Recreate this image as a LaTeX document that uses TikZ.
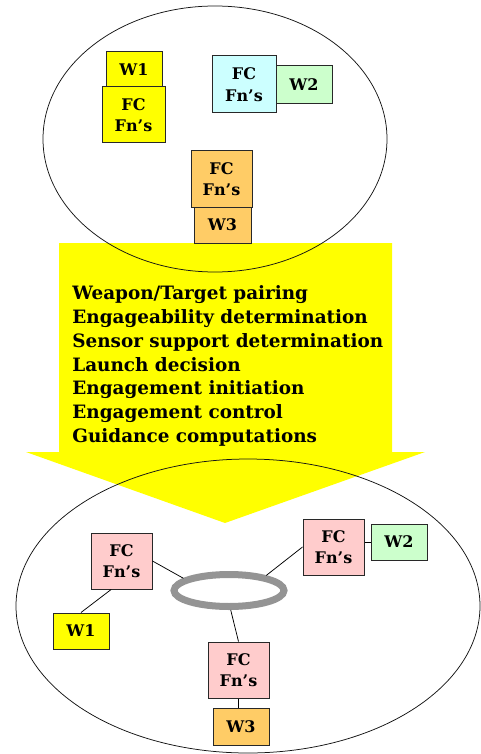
\documentclass[tikz,border=0pt]{standalone}
\usepackage{fontspec}
\setmainfont{DejaVu Serif}
\usetikzlibrary{shapes.geometric}

\tikzset{every picture/.style={line width=0.75pt}}
\tikzset{
  fnbox/.style={draw={rgb, 255:red, 40; green, 40; blue, 40 }, line width=1pt, inner sep=0pt, align=center,
    font=\fontsize{16}{21.5}\selectfont\bfseries, minimum width=61, minimum height=56},
  wbox/.style={fnbox, minimum width=56, minimum height=36},
  yel/.style={fill={rgb, 255:red, 255; green, 255; blue, 0 }},
  cyn/.style={fill={rgb, 255:red, 204; green, 255; blue, 255 }},
  grn/.style={fill={rgb, 255:red, 204; green, 255; blue, 204 }},
  org/.style={fill={rgb, 255:red, 255; green, 204; blue, 102 }},
  pnk/.style={fill={rgb, 255:red, 255; green, 204; blue, 204 }},
  ring/.style={ellipse, draw={rgb, 255:red, 148; green, 148; blue, 148 }, line width=7pt,
    minimum width=110, minimum height=32, inner sep=0pt},
}

\begin{document}
\begin{tikzpicture}[x=1pt,y=1pt,yscale=-1,xscale=1]
	\useasboundingbox (0,0) rectangle (480,754);

	%Shape: Arrow
	\fill [yel] (59,243) -- (392,243) -- (392,452) -- (425,452) -- (225,523) -- (26,452) -- (59,452) -- cycle ;
	%Shape: Ellipse (before)
	\draw [color={rgb, 255:red, 20; green, 20; blue, 20 }] (215,139) ellipse [x radius=172, y radius=133] ;
	%Shape: Ellipse (after)
	\draw [color={rgb, 255:red, 20; green, 20; blue, 20 }] (248,606) ellipse [x radius=232, y radius=147] ;

	% Text Node
	\node [anchor=west, align=left, inner sep=0pt, font=\fontsize{18.4}{23.7}\selectfont\bfseries] (fnlist) at (72,366)
	  {Weapon/Target pairing\\Engageability determination\\Sensor support determination\\Launch decision\\Engagement initiation\\Engagement control\\Guidance computations};

	%Boxes before
	\node [wbox, yel] (tW1) at (134,70) {W1};
	\node [fnbox, yel, minimum width=63] (tFC1) at (133.5,115) {FC\\Fn’s};
	\node [wbox, grn, minimum height=38] (tW2) at (304,85) {W2};
	\node [fnbox, cyn, minimum width=64, minimum height=57] (tFC2) at (244,84.5) {FC\\Fn’s};
	\node [fnbox, org] (tFC3) at (221.5,179) {FC\\Fn’s};
	\node [wbox, org, minimum width=57] (tW3) at (222.5,225) {W3};

	%Boxes after
	\node [fnbox, pnk] (bFC1) at (121.5,561) {FC\\Fn’s};
	\node [wbox, yel] (bW1) at (81,631) {W1};
	\node [fnbox, pnk] (bFC2) at (333.5,547) {FC\\Fn’s};
	\node [wbox, grn] (bW2) at (399,542) {W2};
	\node [fnbox, pnk] (bFC3) at (238.5,670) {FC\\Fn’s};
	\node [wbox, org, minimum height=37] (bW3) at (241,726.5) {W3};
	%Shape: Ring
	\node [ring] (ring) at (229,590.5) {};

	%Straight Lines
	\draw (bFC1.east) -- (ring.165) ;
	\draw (bFC2.west) -- (ring.22) ;
	\draw (ring.-85) -- (bFC3.north) ;
	\draw (bFC1.-110) -- (bW1.north) ;
	\draw (bW2.west) -- (bFC2.east |- bW2.west) ;
	\draw (bFC3.south) -- (bFC3.south |- bW3.north) ;

\end{tikzpicture}
\end{document}
